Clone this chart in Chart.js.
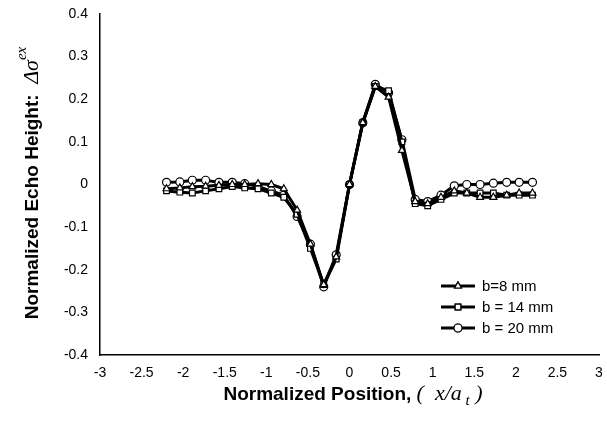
<!DOCTYPE html>
<html>
<head>
<meta charset="utf-8">
<script src="https://cdn.jsdelivr.net/npm/chart.js@4/dist/chart.umd.min.js"></script>
<style>
  html, body { margin: 0; padding: 0; background: #fff; }
  #wrap { width: 607px; height: 423px; }
</style>
</head>
<body>
<div id="wrap"><canvas id="echoChart" width="607" height="423"></canvas></div>
<script>
// positions x/a_t (same for all three probes)
var positions = [-2.2, -2.04, -1.89, -1.73, -1.57, -1.41, -1.26, -1.1, -0.94, -0.79, -0.63, -0.47, -0.31, -0.16, 0,
                 0.16, 0.31, 0.47, 0.63, 0.79, 0.94, 1.1, 1.26, 1.41, 1.57, 1.73, 1.89, 2.04, 2.2];

var seriesLabels = ['b=8 mm', 'b = 14 mm', 'b = 20 mm'];

var echoB8 = [-0.01, -0.008, -0.005, -0.004, -0.002, 0, 0, 0.002, 0, -0.01, -0.06, -0.14, -0.235, -0.17, 0,
              0.145, 0.23, 0.205, 0.08, -0.04, -0.045, -0.03, -0.015, -0.02, -0.03, -0.03, -0.025, -0.02, -0.02];
var echoB14 = [-0.015, -0.018, -0.02, -0.015, -0.01, -0.005, -0.008, -0.01, -0.02, -0.03, -0.07, -0.15, -0.235, -0.175, 0,
               0.145, 0.23, 0.22, 0.1, -0.045, -0.05, -0.035, -0.02, -0.02, -0.02, -0.02, -0.025, -0.025, -0.025];
var echoB20 = [0.005, 0.006, 0.01, 0.01, 0.005, 0.005, 0.002, -0.005, -0.015, -0.025, -0.075, -0.14, -0.24, -0.165, 0,
               0.145, 0.235, 0.215, 0.105, -0.035, -0.04, -0.025, -0.003, 0, 0, 0.003, 0.005, 0.005, 0.005];

var markerStyles = ['triangle', 'rect', 'circle'];

function toPoints(ys) {
    return positions.map(function (x, i) { return { x: x, y: ys[i] }; });
}

function makeDataset(label, ys, style) {
    return {
        label: label,
        data: toPoints(ys),
        borderColor: '#000',
        borderWidth: 3,
        backgroundColor: '#fff',
        pointStyle: style,
        pointRadius: 4,
        pointBorderWidth: 1.2,
        pointBorderColor: '#000',
        pointBackgroundColor: '#fff',
        tension: 0,
        fill: false
    };
}

function drawParts(ctx, parts, cx, cy) {
    var total = 0;
    parts.forEach(function (p) { ctx.font = p[0]; total += ctx.measureText(p[1]).width; });
    var xx = cx - total / 2;
    parts.forEach(function (p) {
        ctx.font = p[0];
        ctx.fillText(p[1], xx, cy + p[2]);
        xx += ctx.measureText(p[1]).width;
    });
}

// draws axis titles (with math parts) and the inner legend
var decorPlugin = {
    id: 'decor',
    afterDraw: function (chart) {
        var ctx = chart.ctx;
        ctx.save();
        ctx.fillStyle = '#000';
        ctx.textBaseline = 'alphabetic';

        var bold = 'bold 19px "Liberation Sans", Arial, sans-serif';
        var ital = 'italic 22px "Liberation Serif", "Times New Roman", serif';
        var sub = 'italic 15px "Liberation Serif", "Times New Roman", serif';

        // x title
        drawParts(ctx, [
            [bold, 'Normalized Position, ', 0],
            [ital, '(  x/a', 0],
            [sub, ' t', 5],
            [ital, ' )', 0]
        ], 353, 400);

        // y title
        ctx.save();
        ctx.translate(38, 183);
        ctx.rotate(-Math.PI / 2);
        drawParts(ctx, [
            [bold, 'Normalized Echo Height:  ', 0],
            [ital, 'Δσ', 0],
            [sub, 'ex', -12]
        ], 0, 0);
        ctx.restore();

        // legend
        var lx = 441, ly = 286, rowH = 21;
        ctx.font = '15px "Liberation Sans", Arial, sans-serif';
        ctx.textBaseline = 'middle';
        chart.data.datasets.forEach(function (ds, i) {
            var cy = ly + i * rowH;
            ctx.strokeStyle = '#000';
            ctx.lineWidth = 3;
            ctx.beginPath();
            ctx.moveTo(lx, cy);
            ctx.lineTo(lx + 34, cy);
            ctx.stroke();
            ctx.lineWidth = 1.2;
            Chart.helpers.drawPoint(ctx, { pointStyle: ds.pointStyle, radius: 4, borderWidth: 1.2, rotation: 0 }, lx + 17, cy);
            ctx.fillStyle = '#fff';
            ctx.fill();
            ctx.stroke();
            ctx.fillStyle = '#000';
            ctx.fillText(ds.label, lx + 41, cy + 1);
        });
        ctx.restore();
    }
};

var ctx = document.getElementById('echoChart').getContext('2d');
var echoChart = new Chart(ctx, {
    type: 'line',
    data: {
        datasets: [
            makeDataset(seriesLabels[0], echoB8, markerStyles[0]),
            makeDataset(seriesLabels[1], echoB14, markerStyles[1]),
            makeDataset(seriesLabels[2], echoB20, markerStyles[2])
        ]
    },
    options: {
        responsive: false,
        animation: false,
        layout: { padding: { left: 0, right: 8, top: 14, bottom: 0 } },
        plugins: {
            legend: { display: false },
            tooltip: { enabled: false }
        },
        scales: {
            x: {
                type: 'linear',
                min: -3,
                max: 3,
                ticks: {
                    stepSize: 0.5,
                    color: '#000',
                    padding: 10,
                    font: { family: '"Liberation Sans", Arial, sans-serif', size: 14 },
                    maxRotation: 0,
                    callback: function (v) { return String(Math.round(v * 10) / 10); }
                },
                grid: { display: false, drawTicks: false },
                border: { display: true, color: '#000', width: 1.5 },
                afterFit: function (s) { s.height = 68; s.paddingLeft = 0; s.paddingRight = 0; }
            },
            y: {
                min: -0.4,
                max: 0.4,
                ticks: {
                    stepSize: 0.1,
                    color: '#000',
                    padding: 12,
                    font: { family: '"Liberation Sans", Arial, sans-serif', size: 14 },
                    callback: function (v) { return String(Math.round(v * 10) / 10); }
                },
                grid: { display: false, drawTicks: false },
                border: { display: true, color: '#000', width: 1.5 },
                afterFit: function (s) { s.width = 100; s.paddingTop = 0; s.paddingBottom = 0; }
            }
        }
    },
    plugins: [decorPlugin]
});
</script>
</body>
</html>
